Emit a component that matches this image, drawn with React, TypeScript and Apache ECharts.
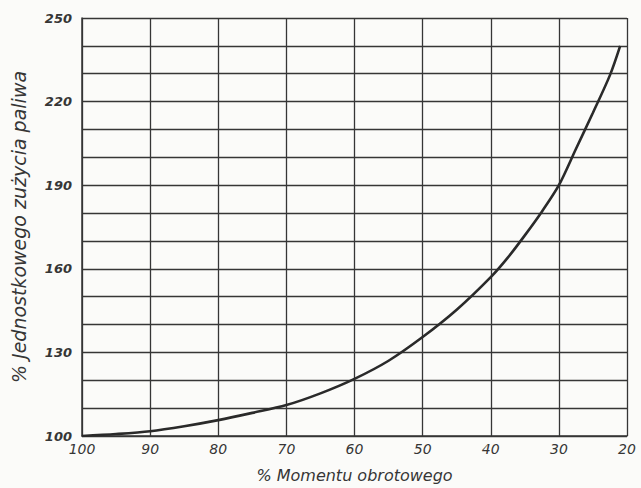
import React, { useEffect, useRef } from "react";
import * as echarts from "echarts";

const torquePct = [100, 95, 90, 85, 80, 75, 70, 65, 60, 55, 50, 45, 40, 37.5, 35, 32.5, 30, 27.5, 25, 22.5, 21];
const fuelPct = [100, 100.7, 101.7, 103.5, 105.7, 108.3, 111.1, 115.3, 120.5, 127, 135.5, 145.3, 157, 164, 172, 180.5, 190, 203, 216, 229.5, 240];
const xTickLabels = ["100", "90", "80", "70", "60", "50", "40", "30", "20"];
const yTickLabels = ["100", "130", "160", "190", "220", "250"];
const xTitle = "% Momentu obrotowego";
const yTitle = "% Jednostkowego zużycia paliwa";

export default function App() {
  const ref = useRef<HTMLDivElement>(null);
  useEffect(() => {
    if (!ref.current) return;
    const chart = echarts.init(ref.current, null, { renderer: "svg" });
    const ink = "#363636";
    const font = "'DejaVu Sans', sans-serif";
    chart.setOption({
      animation: false,
      backgroundColor: "#fbfbf9",
      grid: { left: 82, right: 14, top: 18, bottom: 52, containLabel: false },
      xAxis: {
        type: "value",
        min: 20,
        max: 100,
        interval: 10,
        inverse: true,
        name: xTitle,
        nameLocation: "middle",
        nameGap: 31,
        nameTextStyle: { fontFamily: font, fontStyle: "italic", fontSize: 16, color: ink },
        axisLine: { show: true, lineStyle: { color: ink, width: 1.5 } },
        axisTick: { show: false },
        splitLine: { show: true, lineStyle: { color: ink, width: 1.3 } },
        axisLabel: {
          fontFamily: font,
          fontStyle: "italic",
          fontSize: 14,
          color: ink,
          margin: 6,
          formatter: (v: number) => (xTickLabels.includes(String(v)) ? String(v) : ""),
        },
      },
      yAxis: {
        type: "value",
        min: 100,
        max: 250,
        interval: 10,
        name: yTitle,
        nameLocation: "middle",
        nameGap: 54,
        nameRotate: 90,
        nameTextStyle: { fontFamily: font, fontStyle: "italic", fontSize: 19, color: ink },
        axisLine: { show: true, lineStyle: { color: ink, width: 1.5 } },
        axisTick: { show: false },
        splitLine: { show: true, lineStyle: { color: ink, width: 1.3 } },
        axisLabel: {
          fontFamily: font,
          fontStyle: "italic",
          fontWeight: "bold",
          fontSize: 13,
          color: ink,
          margin: 10,
          formatter: (v: number) => (yTickLabels.includes(String(v)) ? String(v) : ""),
        },
      },
      series: [
        {
          type: "line",
          data: torquePct.map((x, i) => [x, fuelPct[i]]),
          smooth: 0.3,
          showSymbol: false,
          lineStyle: { color: "#2a2a2a", width: 2.6 },
        },
      ],
    });
    return () => chart.dispose();
  }, []);
  return (
    <div
      ref={ref}
      style={{ position: "fixed", left: 0, top: 0, width: 641, height: 488 }}
    />
  );
}
